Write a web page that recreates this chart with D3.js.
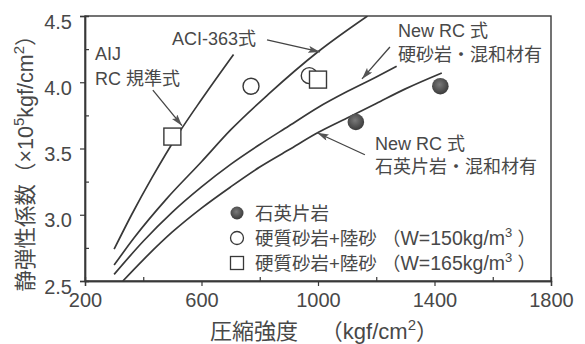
<!DOCTYPE html>
<html>
<head>
<meta charset="utf-8">
<script src="https://cdn.jsdelivr.net/npm/d3@7"></script>
<style>
  html, body { margin: 0; padding: 0; background: #fff; }
  svg { display: block; }
  text { font-family: "Liberation Sans", Arial, "Noto Sans CJK JP", sans-serif; fill: #484848; }
</style>
</head>
<body>
<svg id="chart" width="585" height="344"></svg>
<script>
// Compressive strength (kgf/cm2) vs. static modulus of elasticity (x10^5 kgf/cm2)
const xTicks = [200, 600, 1000, 1400, 1800];
const yTicks = [2.5, 3.0, 3.5, 4.0, 4.5];

// AIJ RC standard formula
const aijX = [300, 360, 430, 520, 600, 710];
const aijY = [2.74, 3.00, 3.28, 3.61, 3.87, 4.21];

// ACI-363 formula
const aciX = [300, 370, 480, 600, 700, 830, 1000, 1170];
const aciY = [2.62, 2.83, 3.12, 3.40, 3.64, 3.91, 4.23, 4.50];

// New RC formula, hard sandstone with admixture
const hardX = [300, 400, 500, 600, 700, 800, 900, 1000, 1100, 1200, 1270];
const hardY = [2.55, 2.80, 3.02, 3.21, 3.38, 3.53, 3.67, 3.81, 3.93, 4.04, 4.12];

// New RC formula, quartz schist with admixture
const quartzX = [330, 400, 500, 600, 700, 800, 900, 1000, 1100, 1200, 1300, 1425];
const quartzY = [2.50, 2.66, 2.87, 3.05, 3.21, 3.36, 3.49, 3.62, 3.73, 3.84, 3.95, 4.07];

// Test results
const schistX = [1130, 1420];
const schistY = [3.70, 3.97];
const w150X = [770, 970];
const w150Y = [3.97, 4.05];
const w165X = [500, 1000];
const w165Y = [3.59, 4.02];

const legendNames = ["石英片岩", "硬質砂岩+陸砂 （", "硬質砂岩+陸砂 （"];
const legendWater = ["", "W=150kg/m", "W=165kg/m"];

const svg = d3.select("#chart");
const ink = "#383838";

const x = d3.scaleLinear().domain([200, 1800]).range([85, 551]);
const y = d3.scaleLinear().domain([2.5, 4.5]).range([281, 16]);

const defs = svg.append("defs");
defs.append("clipPath").attr("id", "plot")
  .append("rect").attr("x", 85).attr("y", 16).attr("width", 466).attr("height", 265);
const grad = defs.append("radialGradient").attr("id", "dot").attr("cx", "45%").attr("cy", "40%").attr("r", "60%");
grad.append("stop").attr("offset", "0%").attr("stop-color", "#7a7a7a");
grad.append("stop").attr("offset", "100%").attr("stop-color", "#3a3a3a");
defs.append("marker").attr("id", "head")
  .attr("viewBox", "0 0 10 6").attr("refX", 10).attr("refY", 3)
  .attr("markerWidth", 12).attr("markerHeight", 7).attr("markerUnits", "userSpaceOnUse")
  .attr("orient", "auto")
  .append("path").attr("d", "M0,0 L10,3 L0,6 L2,3 Z").attr("fill", "#555");

// frame
svg.append("rect").attr("x", 85).attr("y", 16).attr("width", 466).attr("height", 265)
  .attr("fill", "none").attr("stroke", ink).attr("stroke-width", 1.4);

// axes: outward major ticks, inward minor ticks
const xMinor = d3.range(400, 1800, 400);
const yMinor = d3.range(2.75, 4.5, 0.5);

const xAxis = svg.append("g").attr("transform", "translate(0,281)")
  .call(d3.axisBottom(x).tickValues(xTicks).tickSize(5).tickPadding(7).tickFormat(d3.format("d")));
const xAxisMinor = svg.append("g").attr("transform", "translate(0,281)")
  .call(d3.axisTop(x).tickValues(xMinor).tickSize(4).tickFormat(""));
const yAxis = svg.append("g").attr("transform", "translate(85,0)")
  .call(d3.axisLeft(y).tickValues(yTicks).tickSize(5).tickPadding(8).tickFormat(d3.format(".1f")));
const yAxisMinor = svg.append("g").attr("transform", "translate(85,0)")
  .call(d3.axisRight(y).tickValues(yMinor).tickSize(4).tickFormat(""));

[xAxis, xAxisMinor, yAxis, yAxisMinor].forEach(g => {
  g.select(".domain").attr("stroke", ink).attr("stroke-width", 1.4);
  g.selectAll(".tick line").attr("stroke", ink).attr("stroke-width", 1.2);
  g.selectAll(".tick text").attr("font-size", 20).attr("fill", "#484848")
    .style("font-family", '"Liberation Sans", Arial, sans-serif');
});
yAxis.selectAll(".tick text").attr("dy", "0.6em");

// curves
const line = d3.line().x(d => x(d[0])).y(d => y(d[1])).curve(d3.curveMonotoneX);
const curves = [
  [aijX, aijY], [aciX, aciY], [hardX, hardY], [quartzX, quartzY]
];
const plot = svg.append("g").attr("clip-path", "url(#plot)");
curves.forEach(([xs, ys]) => {
  plot.append("path").datum(xs.map((v, i) => [v, ys[i]]))
    .attr("d", line).attr("fill", "none").attr("stroke", ink).attr("stroke-width", 1.7);
});

// measured points
const pts = (xs, ys) => xs.map((v, i) => [v, ys[i]]);
svg.append("g").selectAll("circle").data(pts(schistX, schistY)).join("circle")
  .attr("cx", d => x(d[0])).attr("cy", d => y(d[1])).attr("r", 8.3)
  .attr("fill", "url(#dot)");
svg.append("g").selectAll("circle").data(pts(w150X, w150Y)).join("circle")
  .attr("cx", d => x(d[0])).attr("cy", d => y(d[1])).attr("r", 8)
  .attr("fill", "#fff").attr("stroke", ink).attr("stroke-width", 1.4);
const sq = 17;
svg.append("g").selectAll("rect").data(pts(w165X, w165Y)).join("rect")
  .attr("x", d => x(d[0]) - sq / 2).attr("y", d => y(d[1]) - sq / 2)
  .attr("width", sq).attr("height", sq)
  .attr("fill", "#fff").attr("stroke", ink).attr("stroke-width", 1.4);

// annotations (positions in data units)
const notes = [
  { lines: ["AIJ", "RC 規準式"], at: [234, 4.168], gap: 25, arrow: [[433, 3.94], [533, 3.672]] },
  { lines: ["ACI-363式"], at: [499, 4.28], gap: 0, arrow: [[825, 4.32], [1007, 4.229]] },
  { lines: ["New RC 式", "硬砂岩・混和材有"], at: [1275, 4.34], gap: 24, arrow: [[1247, 4.266], [1151, 4.025]] },
  { lines: ["New RC 式", "石英片岩・混和材有"], at: [1196, 3.49], gap: 23, arrow: [[1161, 3.453], [997, 3.619]] }
];
notes.forEach(n => {
  n.lines.forEach((t, i) => {
    svg.append("text").attr("x", x(n.at[0])).attr("y", y(n.at[1]) + i * n.gap)
      .attr("font-size", 18).text(t);
  });
  svg.append("line")
    .attr("x1", x(n.arrow[0][0])).attr("y1", y(n.arrow[0][1]))
    .attr("x2", x(n.arrow[1][0])).attr("y2", y(n.arrow[1][1]))
    .attr("stroke", "#444").attr("stroke-width", 1.3).attr("marker-end", "url(#head)");
});

// legend
const lg = svg.append("g").attr("transform", "translate(237,213)");
const rowGap = 25;
lg.append("circle").attr("cx", 0).attr("cy", 0).attr("r", 6.5).attr("fill", "url(#dot)");
lg.append("circle").attr("cx", 0).attr("cy", rowGap).attr("r", 6.5)
  .attr("fill", "#fff").attr("stroke", ink).attr("stroke-width", 1.3);
lg.append("rect").attr("x", -6.5).attr("y", 2 * rowGap - 6.5).attr("width", 13).attr("height", 13)
  .attr("fill", "#fff").attr("stroke", ink).attr("stroke-width", 1.3);
legendNames.forEach((t, i) => {
  const tx = lg.append("text").attr("x", 18).attr("y", i * rowGap + 7).attr("font-size", 18.5).text(t);
  if (legendWater[i]) {
    tx.append("tspan").attr("font-size", 19.5).text(legendWater[i]);
    tx.append("tspan").attr("font-size", 13).attr("dy", -8).text("3");
    tx.append("tspan").attr("dy", 8).text("   ）");
  }
});

// axis titles
svg.append("text").attr("x", 210).attr("y", 339).attr("font-size", 22).text("圧縮強度");
const xt = svg.append("text").attr("x", 438).attr("y", 339).attr("text-anchor", "end")
  .attr("font-size", 22).text("（kgf/cm");
xt.append("tspan").attr("font-size", 15).attr("dy", -9).text("2");
xt.append("tspan").attr("dy", 9).text("）");

const yt = svg.append("text").attr("transform", "translate(33,158) rotate(-90)")
  .attr("text-anchor", "middle").attr("font-size", 21.5).text("静弾性係数（×10");
yt.append("tspan").attr("font-size", 15).attr("dy", -9).text("5");
yt.append("tspan").attr("dy", 9).text("kgf/cm");
yt.append("tspan").attr("font-size", 15).attr("dy", -9).text("2");
yt.append("tspan").attr("dy", 9).text("）");
</script>
</body>
</html>
